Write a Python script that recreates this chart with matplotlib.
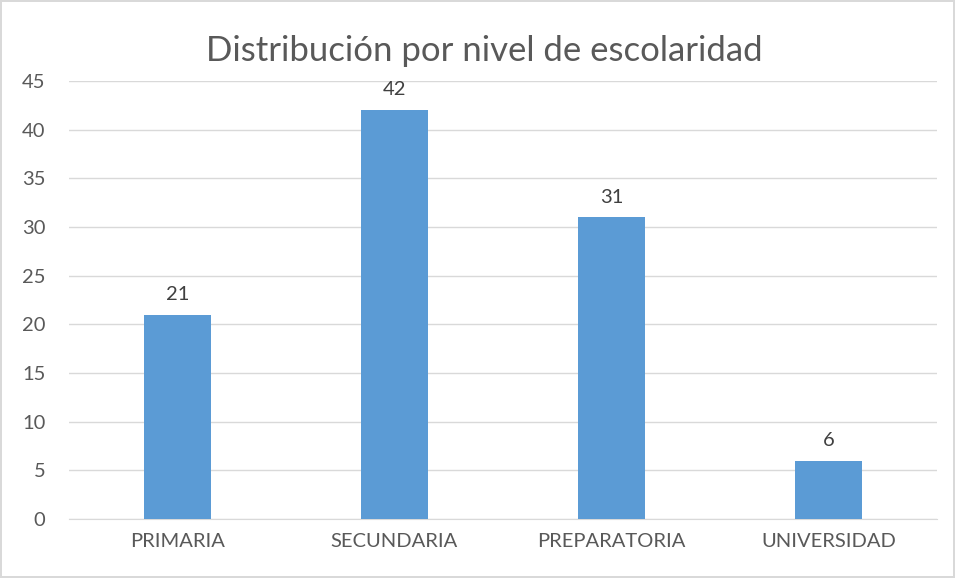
import matplotlib
matplotlib.use("Agg")
import matplotlib.pyplot as plt
import numpy as np

plt.rcParams['font.family'] = ['Lato', 'DejaVu Sans']

categorias = ['PRIMARIA', 'SECUNDARIA', 'PREPARATORIA', 'UNIVERSIDAD']
valores = [21, 42, 31, 6]
yticks = [0, 5, 10, 15, 20, 25, 30, 35, 40, 45]

text_col = '#595959'
grid_col = '#D9D9D9'

fig = plt.figure(figsize=(9.55, 5.78), dpi=100)
fig.patch.set_edgecolor(grid_col)
fig.patch.set_linewidth(1.5)
ax = fig.add_axes([0.0723, 0.102, 0.9087, 0.758])

x = np.arange(len(categorias))
ax.bar(x, valores, width=0.31, color='#5B9BD5', zorder=3)
for a, b in zip(x, valores):
    ax.text(a, b + 1.2, '%d' % b, ha='center', va='bottom', fontsize=14.5, color='#404040')

ax.set_xlim(-0.5, len(categorias) - 0.5)
ax.set_ylim(0, 45)
ax.set_yticks(yticks)
ax.set_xticks(x)
ax.set_xticklabels(categorias)
ax.tick_params(axis='both', length=0, labelsize=14.5, colors=text_col)
ax.tick_params(axis='y', pad=17)
ax.tick_params(axis='x', pad=10)
ax.grid(axis='y', color=grid_col, linewidth=1, zorder=0)
for s in ['left', 'right', 'top']:
    ax.spines[s].set_visible(False)
ax.spines['bottom'].set_color(grid_col)
ax.set_title('Distribución por nivel de escolaridad', fontsize=25, color=text_col, pad=14, x=0.478)

fig.savefig('out.png', dpi=100)
